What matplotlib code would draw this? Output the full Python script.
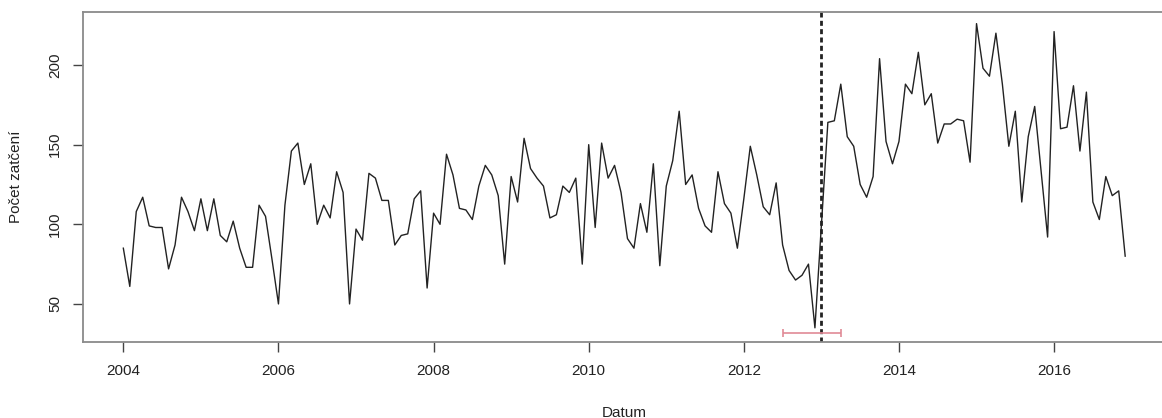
import numpy as np
import matplotlib
matplotlib.use('Agg')
import matplotlib.pyplot as plt

plt.rcParams['font.family'] = ['Liberation Sans', 'DejaVu Sans']

# mesicni pocty zatceni, leden 2004 - prosinec 2016
pocty = [
    85, 61, 108, 117, 99, 98, 98, 72, 87, 117, 108, 96,
    116, 96, 116, 93, 89, 102, 85, 73, 73, 112, 105, 78,
    50, 112, 146, 151, 125, 138, 100, 112, 104, 133, 120, 50,
    97, 90, 132, 129, 115, 115, 87, 93, 94, 116, 121, 60,
    107, 100, 144, 131, 110, 109, 103, 124, 137, 131, 118, 75,
    130, 114, 154, 135, 129, 124, 104, 106, 124, 120, 129, 75,
    150, 98, 151, 129, 137, 120, 91, 85, 113, 95, 138, 74,
    124, 140, 171, 125, 131, 110, 99, 95, 133, 113, 107, 85,
    116, 149, 131, 111, 106, 126, 87, 71, 65, 68, 75, 35,
    100, 164, 165, 188, 155, 149, 125, 117, 130, 204, 152, 138,
    152, 188, 182, 208, 175, 182, 151, 163, 163, 166, 165, 139,
    226, 198, 193, 220, 188, 149, 171, 114, 155, 174, 133, 92,
    221, 160, 161, 187, 146, 183, 114, 103, 130, 118, 121, 80,
]
zacatek = 2004
datum = zacatek + np.arange(len(pocty)) / 12.0

zlom = 2013.0           # odhadnuty bod zlomu
zlom_ci = [2012.5, 2013.25]  # interval spolehlivosti
ci_y = 32

x_ticks = [2004, 2006, 2008, 2010, 2012, 2014, 2016]
y_ticks = [50, 100, 150, 200]

fig = plt.figure(figsize=(11.62, 4.18), dpi=100)
ax = fig.add_axes([83 / 1162, 1 - 342 / 418, (1165 - 83) / 1162, 330 / 418])

ax.plot(datum, pocty, color='#222222', lw=1.0)
ax.axvline(zlom, color='#222222', lw=2, linestyle=(0, (1.8, 1.2)))
ax.errorbar(np.mean(zlom_ci), ci_y, xerr=[[np.mean(zlom_ci) - zlom_ci[0]], [zlom_ci[1] - np.mean(zlom_ci)]],
            fmt='none', ecolor='#e08a96', elinewidth=1.2, capsize=3, capthick=1.2)

ax.set_xlim(2003.48, 2017.43)
ax.set_ylim(26.1, 233.3)
ax.set_xticks(x_ticks)
ax.set_yticks(y_ticks)
ax.set_yticklabels([str(v) for v in y_ticks], rotation=90, va='center')
ax.tick_params(axis='both', length=7, width=1, color='#444444', labelsize=11, labelcolor='#222222')
ax.tick_params(axis='x', pad=9)
ax.tick_params(axis='y', pad=8)
for s in ax.spines.values():
    s.set_color('#8a8a8a')
    s.set_linewidth(1.3)

ax.set_xlabel('Datum', fontsize=11, color='#222222', labelpad=20)
ax.set_ylabel('Počet zatčení', fontsize=11, color='#222222', labelpad=18)

fig.savefig('out.png', dpi=100)
